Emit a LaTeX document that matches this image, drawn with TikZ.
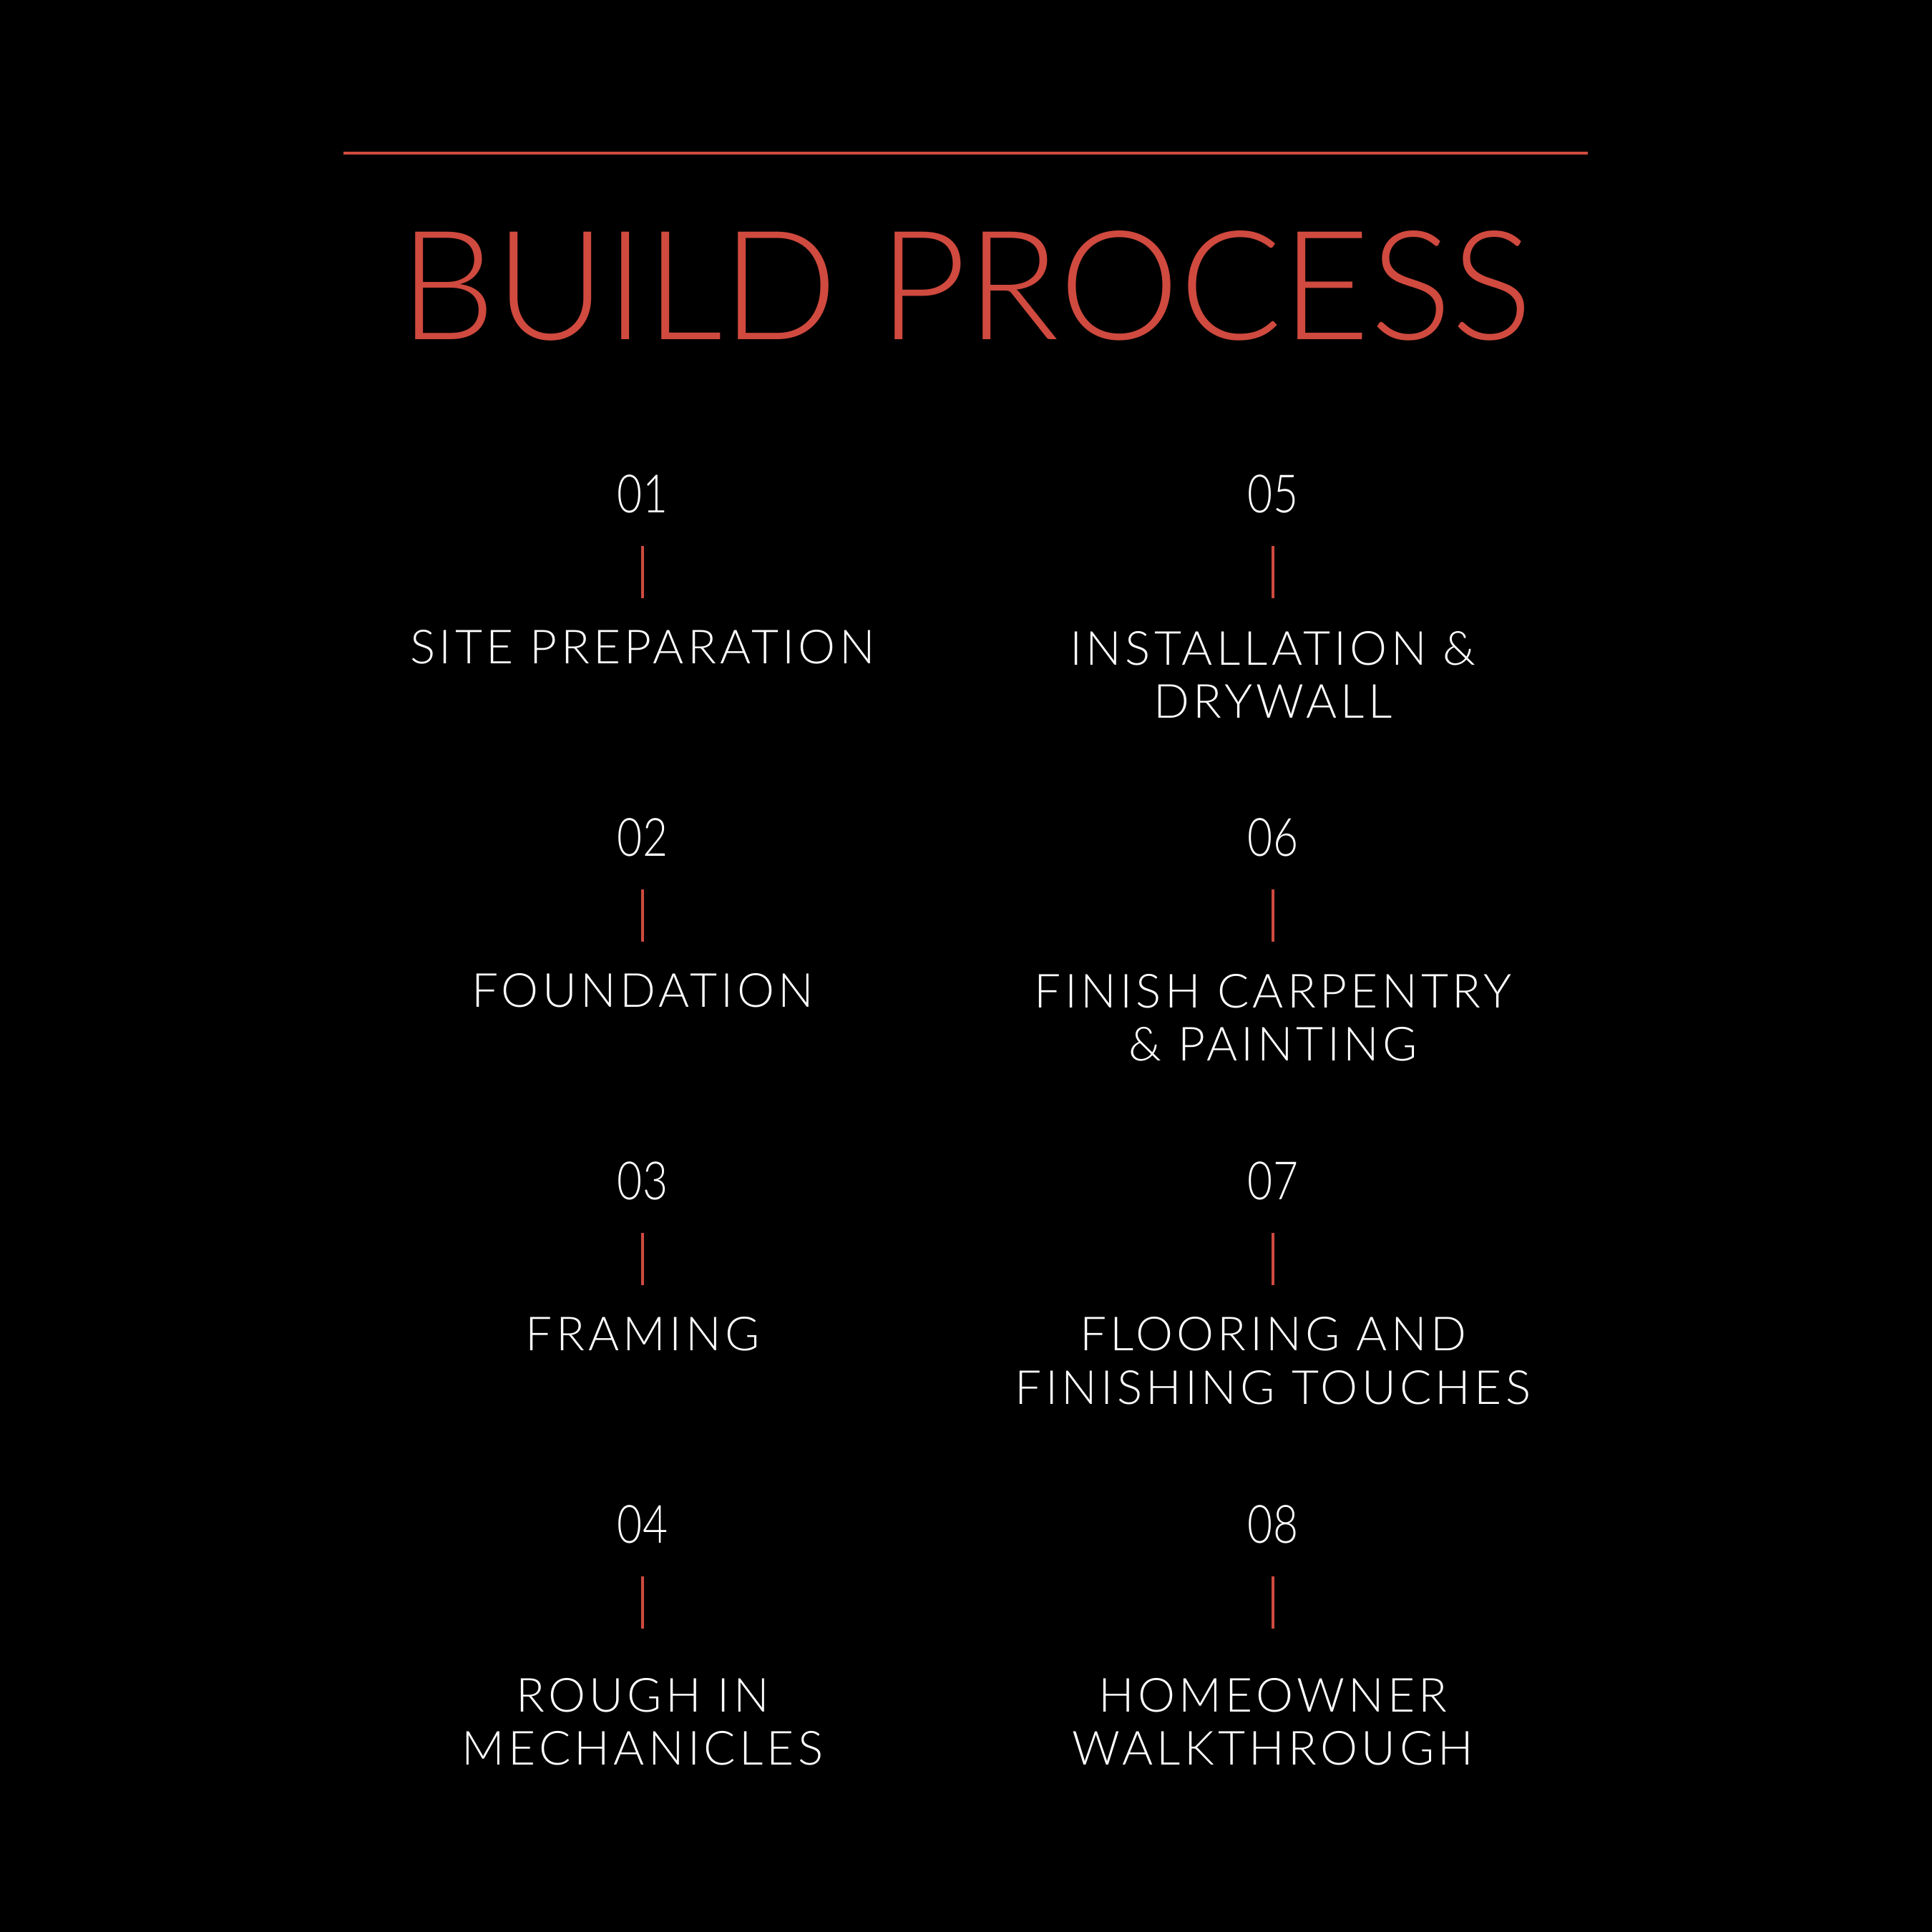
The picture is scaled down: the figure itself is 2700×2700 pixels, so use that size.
\documentclass[tikz,border=0pt]{standalone}
\usepackage{fontspec}
\newfontfamily\titlefont{Lato Light}
\newfontfamily\numfont{Lato Light}
\newfontfamily\labfont{Lato Light}[LetterSpace=8]
\definecolor{brickred}{HTML}{D04A3F}
\newcommand{\narrownum}[1]{\scalebox{0.82}[1]{#1}}
\begin{document}
\begin{tikzpicture}[x=0.01cm,y=-0.01cm,
  num/.style={anchor=base,text=white,inner sep=0pt,font=\numfont\fontsize{21}{21}\selectfont},
  lab/.style={anchor=base,text=white,inner sep=0pt,font=\labfont\fontsize{18.7}{20}\selectfont},
  tick/.style={draw=brickred,line width=0.04cm},
  rule/.style={draw=brickred,line width=0.03cm}]
\fill[black] (0,0) rectangle (2700,2700);
\useasboundingbox (0,0) rectangle (2700,2700);
% top rule
\coordinate (rl) at (480,214);
\coordinate (rr) at (2219,214);
\draw[rule] (rl) -- (rr);
% title
\node[anchor=base,text=brickred,inner sep=0pt,font=\titlefont\fontsize{60.4}{60}\selectfont] (title) at (1350,474) {BUILD PROCESS};
% left column
\node[num] (n1) at (898,716) {\narrownum{01}};
\node[num] (n2) at (898,1196) {\narrownum{02}};
\node[num] (n3) at (898,1676) {\narrownum{03}};
\node[num] (n4) at (898,2156) {\narrownum{04}};
% right column
\node[num] (n5) at (1779,716) {\narrownum{05}};
\node[num] (n6) at (1779,1196) {\narrownum{06}};
\node[num] (n7) at (1779,1676) {\narrownum{07}};
\node[num] (n8) at (1779,2156) {\narrownum{08}};
% ticks
\foreach \i/\x/\y in {1/898/763,2/898/1243,3/898/1723,4/898/2203,5/1779/763,6/1779/1243,7/1779/1723,8/1779/2203}{
  \coordinate (ta\i) at (\x,\y);
  \coordinate (tb\i) at (\x,\y+73);
  \draw[tick] (ta\i) -- (tb\i);
}
% labels
\node[lab] (l1) at (898,927) {SITE PREPARATION};
\node[lab] (l2) at (898,1407) {FOUNDATION};
\node[lab] (l3) at (898,1887) {FRAMING};
\node[lab] (l4a) at (898,2392) {ROUGH IN};
\node[lab] (l4b) at (898,2466) {MECHANICLES};
\node[lab] (l5a) at (1779,929) {INSTALLATION \&};
\node[lab] (l5b) at (1779,1003) {DRYWALL};
\node[lab] (l6a) at (1779,1408) {FINISH CARPENTRY};
\node[lab] (l6b) at (1779,1482) {\& PAINTING};
\node[lab] (l7a) at (1779,1887) {FLOORING AND};
\node[lab] (l7b) at (1779,1962) {FINISHING TOUCHES};
\node[lab] (l8a) at (1779,2392) {HOMEOWNER};
\node[lab] (l8b) at (1779,2466) {WALKTHROUGH};
\end{tikzpicture}
\end{document}
